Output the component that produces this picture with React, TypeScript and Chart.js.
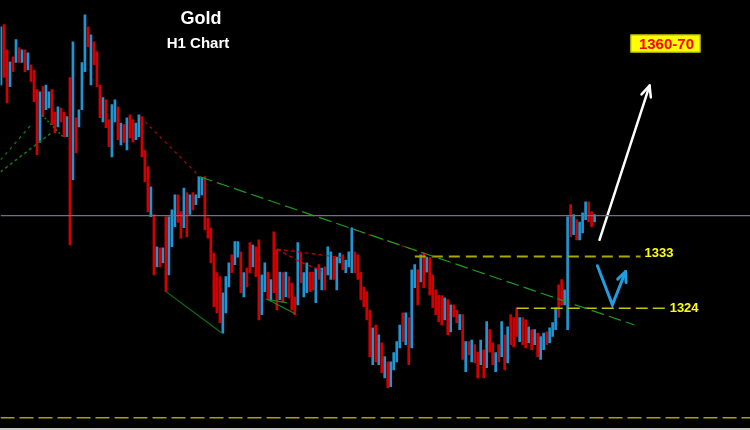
import { useEffect, useRef } from "react";
import { Chart, registerables } from "chart.js";
Chart.register(...registerables);

// ---- Bar data (H1 gold bars, high / low, direction B=up/blue R=down/red) ----
const highs = [
  1372.9, 1373.3, 1368.9, 1366.8, 1367.7, 1370.7, 1369.3, 1368.9, 1368.9, 1368.4,
  1366.3, 1365.4, 1362.0, 1361.6, 1362.5, 1362.8, 1361.6, 1362.0, 1358.1, 1359.0,
  1358.8, 1358.1, 1357.3, 1364.1, 1370.3, 1357.1, 1358.5, 1366.7, 1375.0, 1372.9,
  1371.5, 1370.3, 1368.6, 1362.8, 1360.6, 1360.2, 1356.8, 1359.4, 1360.2, 1359.0,
  1356.2, 1355.9, 1357.1, 1357.6, 1356.8, 1356.2, 1357.6, 1357.3, 1351.5, 1348.6,
  1345.1, 1340.3, 1334.7, 1334.5, 1334.5, 1339.9, 1339.9, 1341.1, 1343.7, 1343.7,
  1340.8, 1344.9, 1344.1, 1343.7, 1344.1, 1343.7, 1346.9, 1346.7, 1346.9, 1339.7,
  1338.0, 1333.6, 1330.2, 1329.5, 1326.7, 1329.5, 1331.9, 1333.3, 1335.6, 1335.6,
  1333.8, 1330.2, 1331.0, 1335.4, 1335.0, 1334.7, 1335.9, 1329.8, 1331.9, 1330.3,
  1329.0, 1337.3, 1334.2, 1330.3, 1330.2, 1330.3, 1329.5, 1328.4, 1326.0, 1335.4,
  1333.6, 1330.2, 1331.9, 1330.3, 1330.3, 1331.0, 1331.6, 1331.0, 1331.2, 1334.7,
  1333.8, 1332.8, 1332.9, 1333.6, 1333.3, 1332.4, 1333.8, 1338.0, 1333.8, 1333.3,
  1330.3, 1327.7, 1326.9, 1323.7, 1320.6, 1321.1, 1319.4, 1318.0, 1315.6, 1314.7,
  1314.7, 1316.3, 1318.2, 1321.1, 1323.2, 1323.2, 1322.4, 1330.7, 1331.6, 1330.7,
  1333.3, 1333.6, 1332.9, 1332.8, 1329.8, 1327.2, 1326.3, 1326.2, 1325.8, 1325.5,
  1324.6, 1324.6, 1323.7, 1322.9, 1322.9, 1318.2, 1318.2, 1318.5, 1317.7, 1316.4,
  1318.5, 1316.8, 1321.7, 1320.3, 1318.0, 1316.3, 1317.7, 1321.7, 1319.4, 1320.8,
  1322.9, 1322.4, 1324.1, 1322.4, 1322.4, 1322.0, 1320.8, 1320.3, 1320.3, 1319.7,
  1319.1, 1319.7, 1319.9, 1320.6, 1321.5, 1324.1, 1328.1, 1329.0, 1327.2, 1339.9,
  1342.0, 1340.3, 1339.4, 1339.0, 1340.6, 1342.5, 1342.5, 1340.8, 1340.3,
];

const lows = [
  1362.8, 1364.1, 1359.7, 1362.5, 1365.1, 1366.7, 1366.7, 1366.7, 1365.1, 1365.4,
  1363.4, 1359.9, 1350.7, 1352.8, 1357.3, 1358.5, 1358.8, 1355.9, 1354.5, 1355.5,
  1356.4, 1353.8, 1353.8, 1335.0, 1346.3, 1351.0, 1355.5, 1358.5, 1365.1, 1369.4,
  1362.8, 1366.3, 1362.5, 1357.1, 1356.4, 1355.4, 1352.1, 1350.3, 1356.4, 1353.3,
  1352.4, 1352.8, 1351.5, 1353.6, 1352.9, 1353.3, 1353.8, 1350.3, 1346.0, 1340.8,
  1339.9, 1329.8, 1331.2, 1331.2, 1331.9, 1326.9, 1329.8, 1334.7, 1338.2, 1338.9,
  1336.2, 1338.0, 1336.4, 1340.3, 1341.1, 1342.0, 1343.2, 1343.7, 1337.6, 1336.2,
  1331.9, 1324.3, 1323.2, 1321.5, 1319.7, 1323.2, 1327.7, 1330.2, 1331.6, 1332.9,
  1326.7, 1326.0, 1327.7, 1330.2, 1331.2, 1329.5, 1322.0, 1322.9, 1326.9, 1325.5,
  1325.5, 1326.7, 1323.7, 1325.5, 1325.0, 1326.0, 1325.8, 1323.7, 1322.9, 1324.6,
  1328.4, 1326.0, 1326.7, 1326.9, 1327.2, 1325.0, 1329.0, 1327.2, 1327.2, 1329.8,
  1329.0, 1329.0, 1327.2, 1331.9, 1330.7, 1330.2, 1331.2, 1330.2, 1330.2, 1329.0,
  1325.5, 1324.3, 1322.0, 1315.6, 1314.2, 1314.7, 1314.2, 1312.8, 1311.9, 1310.2,
  1310.4, 1313.3, 1314.7, 1317.1, 1318.2, 1317.7, 1314.2, 1317.1, 1327.6, 1324.6,
  1328.6, 1327.6, 1330.3, 1326.3, 1324.1, 1322.9, 1321.7, 1321.1, 1322.0, 1319.4,
  1319.9, 1322.5, 1321.5, 1320.3, 1315.1, 1313.0, 1315.9, 1314.7, 1314.5, 1311.9,
  1314.2, 1311.9, 1313.7, 1316.4, 1314.2, 1313.0, 1314.7, 1315.6, 1313.3, 1314.5,
  1317.7, 1317.3, 1319.1, 1318.2, 1317.7, 1317.1, 1318.0, 1316.8, 1317.7, 1315.6,
  1315.1, 1316.8, 1317.7, 1318.0, 1319.1, 1320.3, 1322.4, 1324.6, 1324.6, 1320.3,
  1336.4, 1336.8, 1335.9, 1335.9, 1337.1, 1339.4, 1339.0, 1338.2, 1339.0,
];

const direction = (
  "BRRBRBRBRB" + "RRRBRBBRRB" + "RRBRBRBBBR" + "BRRRBRRBBR" + "BRBRRBBRRR" +
  "BRBRBRBBBR" + "RBRBRBBBRR" + "RRRRBBBRBB" + "RBRRBRRBBR" + "BRRBRBRRRB" +
  "RBBRRBRBRB" + "BRBBRBBBRR" + "RRRRBRBRBR" + "BBBBRBRBBR" + "BRBRRRRRBR" +
  "BRRBRBRBRR" + "BRBRRBRBRB" + "RRRBRRBRBR" + "BBRBBBRRBB" + "RBRBBBRRB"
).split("");

const slotCount = 250; // time slots incl. right-hand chart shift
const slotLabels = Array.from({ length: slotCount }, (_, i) => String(i));

// price axis range
const priceMin = 1302.86;
const priceMax = 1377.56;

// ---- drawn objects (bar index, price) ----
const trendLine = [{ x: 66.0, y: 1346.85 }, { x: 211.0, y: 1321.1 }];
const redDotLine = [{ x: 46.0, y: 1357.3 }, { x: 66.0, y: 1346.85 }];
const redAlongTrend = [{ x: 117.7, y: 1337.6 }, { x: 141.0, y: 1333.5 }];
const redDashA = [{ x: 91.7, y: 1334.3 }, { x: 113.3, y: 1332.8 }];
const redDashB = [{ x: 91.7, y: 1334.3 }, { x: 99.3, y: 1332.1 }, { x: 106.7, y: 1330.5 }];
const greenTriangle = [{ x: 95.0, y: 1325.0 }, { x: 88.7, y: 1325.5 }, { x: 97.7, y: 1323.1 }];
const greenSolid = [{ x: 54.7, y: 1326.9 }, { x: 73.3, y: 1319.7 }];
const greenDotA = [{ x: -0.5, y: 1349.8 }, { x: 10.3, y: 1356.2 }];
const greenDotB = [{ x: -0.5, y: 1347.7 }, { x: 17.0, y: 1354.7 }];
const greenDotC = [{ x: 13.3, y: 1357.6 }, { x: 20.3, y: 1353.8 }];
const currentPrice = 1340.1;
const supportPrice = 1305.0;
const level1333 = [{ x: 137.7, y: 1333 }, { x: 213.0, y: 1333 }];
const level1324 = [{ x: 171.7, y: 1324 }, { x: 222.0, y: 1324 }];
const whiteArrow = [{ x: 199.3, y: 1335.9 }, { x: 216.0, y: 1362.7 }];
const blueArrow = [{ x: 198.6, y: 1331.4 }, { x: 203.6, y: 1324.6 }, { x: 208.0, y: 1330.4 }];
const levelLabels = [
  { text: "1333", x: 214.3, y: 1333.6 },
  { text: "1324", x: 222.7, y: 1324.0 },
];
const targetLabel = { text: "1360-70", x: 221.3, y: 1370.0 };

const UP = "#1f96d2";
const DOWN = "#d20000";

function lineDs(label: string, data: any[], color: string, width: number, dash: number[], extra: any = {}) {
  return {
    type: "line",
    label,
    data,
    xAxisID: "x2",
    yAxisID: "y",
    borderColor: color,
    borderWidth: width,
    borderDash: dash,
    pointRadius: 0,
    pointHoverRadius: 0,
    fill: false,
    tension: 0,
    order: 0,
    ...extra,
  };
}

function drawHead(ctx: CanvasRenderingContext2D, from: any, to: any, len: number, color: string, width: number) {
  const ang = Math.atan2(to.y - from.y, to.x - from.x);
  ctx.save();
  ctx.strokeStyle = color;
  ctx.lineWidth = width;
  ctx.lineCap = "round";
  ctx.lineJoin = "round";
  ctx.beginPath();
  ctx.moveTo(to.x - len * Math.cos(ang - 0.42), to.y - len * Math.sin(ang - 0.42));
  ctx.lineTo(to.x, to.y);
  ctx.lineTo(to.x - len * Math.cos(ang + 0.42), to.y - len * Math.sin(ang + 0.42));
  ctx.stroke();
  ctx.restore();
}

const overlayPlugin = {
  id: "overlay",
  beforeDraw(chart: any) {
    const ctx = chart.ctx;
    ctx.save();
    ctx.fillStyle = "#000000";
    ctx.fillRect(0, 0, chart.width, chart.height);
    ctx.restore();
  },
  afterDatasetsDraw(chart: any) {
    const ctx: CanvasRenderingContext2D = chart.ctx;
    const xs = chart.scales.x2;
    const ys = chart.scales.y;
    const ds = chart.data.datasets;
    const pts = (label: string) => {
      const idx = ds.findIndex((d: any) => d.label === label);
      return chart.getDatasetMeta(idx).data;
    };
    const wa = pts("whiteArrow");
    drawHead(ctx, wa[wa.length - 2], wa[wa.length - 1], 12, "#ffffff", 2.5);
    const ba = pts("blueArrow");
    drawHead(ctx, ba[ba.length - 2], ba[ba.length - 1], 11, "#1e9ee0", 3);

    ctx.save();
    ctx.textBaseline = "middle";
    ctx.textAlign = "left";
    ctx.font = "bold 13px 'Liberation Sans', Arial, sans-serif";
    ctx.fillStyle = "#ffff00";
    for (const l of levelLabels) {
      ctx.fillText(l.text, xs.getPixelForValue(l.x), ys.getPixelForValue(l.y));
    }
    // target box
    const cx = xs.getPixelForValue(targetLabel.x);
    const cy = ys.getPixelForValue(targetLabel.y);
    ctx.fillStyle = "#ffff00";
    ctx.fillRect(cx - 35, cy - 9, 70, 18);
    ctx.strokeStyle = "#b8b800";
    ctx.lineWidth = 1;
    ctx.strokeRect(cx - 35 + 0.5, cy - 9 + 0.5, 69, 17);
    ctx.fillStyle = "#ff0000";
    ctx.textAlign = "center";
    ctx.font = "bold 15px 'Liberation Sans', Arial, sans-serif";
    ctx.fillText(targetLabel.text, cx + 1, cy + 1);

    // titles
    ctx.fillStyle = "#ffffff";
    ctx.font = "bold 18px 'Liberation Sans', Arial, sans-serif";
    ctx.fillText("Gold", 201, 19);
    ctx.font = "bold 15px 'Liberation Sans', Arial, sans-serif";
    ctx.fillText("H1 Chart", 198, 44);
    ctx.restore();
  },
  afterDraw(chart: any) {
    const ctx = chart.ctx;
    ctx.save();
    ctx.fillStyle = "#c8c8c8";
    ctx.fillRect(0, chart.height - 2, chart.width, 2);
    ctx.restore();
  },
};

export default function App() {
  const ref = useRef<HTMLCanvasElement | null>(null);
  useEffect(() => {
    document.body.style.margin = "0";
    document.body.style.background = "#000";
    const barData = highs.map((h, i) => [lows[i], h]);
    const chart = new Chart(ref.current as HTMLCanvasElement, {
      type: "bar",
      data: {
        labels: slotLabels,
        datasets: [
          {
            type: "bar",
            label: "bars",
            data: barData as any,
            backgroundColor: direction.map((d) => (d === "B" ? UP : DOWN)),
            barThickness: 2,
            borderWidth: 0,
            xAxisID: "x",
            yAxisID: "y",
            order: 10,
          } as any,
          lineDs("current", [{ x: -0.5, y: currentPrice }, { x: 249.5, y: currentPrice }], "#6c7282", 1.2, []),
          lineDs("support", [{ x: -0.5, y: supportPrice }, { x: 249.5, y: supportPrice }], "#a4a400", 1.5, [14, 5]),
          lineDs("trend", trendLine, "#1e9a1e", 1.2, [13, 5]),
          lineDs("redDot", redDotLine, "#b80000", 1.2, [3, 4]),
          lineDs("redAlong", redAlongTrend, "#c00000", 1.2, [3, 4]),
          lineDs("redDashA", redDashA, "#d00000", 1.2, [4, 3]),
          lineDs("redDashB", redDashB, "#d00000", 1.2, [4, 3]),
          lineDs("greenTri", greenTriangle, "#1a8a1a", 1.2, []),
          lineDs("greenSolid", greenSolid, "#127012", 1.2, []),
          lineDs("greenDotA", greenDotA, "#137a13", 1.2, [3, 4]),
          lineDs("greenDotB", greenDotB, "#137a13", 1.5, [3, 3]),
          lineDs("greenDotC", greenDotC, "#137a13", 1.5, [2, 2]),
          lineDs("l1333", level1333, "#a8a800", 2, [11, 6]),
          lineDs("l1324", level1324, "#c4c400", 1.5, [12, 5]),
          lineDs("whiteArrow", whiteArrow, "#ffffff", 2.5, [], { borderCapStyle: "round" }),
          lineDs("blueArrow", blueArrow, "#1e9ee0", 3, [], { borderCapStyle: "round", borderJoinStyle: "miter" }),
        ] as any,
      },
      options: {
        responsive: false,
        maintainAspectRatio: false,
        animation: false,
        devicePixelRatio: 1,
        events: [],
        layout: { padding: { left: 0.5, right: 0, top: 0, bottom: 0 } },
        plugins: { legend: { display: false }, tooltip: { enabled: false }, title: { display: false } },
        scales: {
          x: { type: "category", display: false, offset: true, grid: { display: false } },
          x2: { type: "linear", display: false, offset: false, min: -0.5, max: slotCount - 0.5, grid: { display: false, offset: false } },
          y: { type: "linear", display: false, min: priceMin, max: priceMax, grid: { display: false } },
        },
      } as any,
      plugins: [overlayPlugin],
    });
    return () => chart.destroy();
  }, []);
  return (
    <div style={{ width: 750, height: 430, background: "#000" }}>
      <canvas ref={ref} width={750} height={430} style={{ display: "block" }} />
    </div>
  );
}
